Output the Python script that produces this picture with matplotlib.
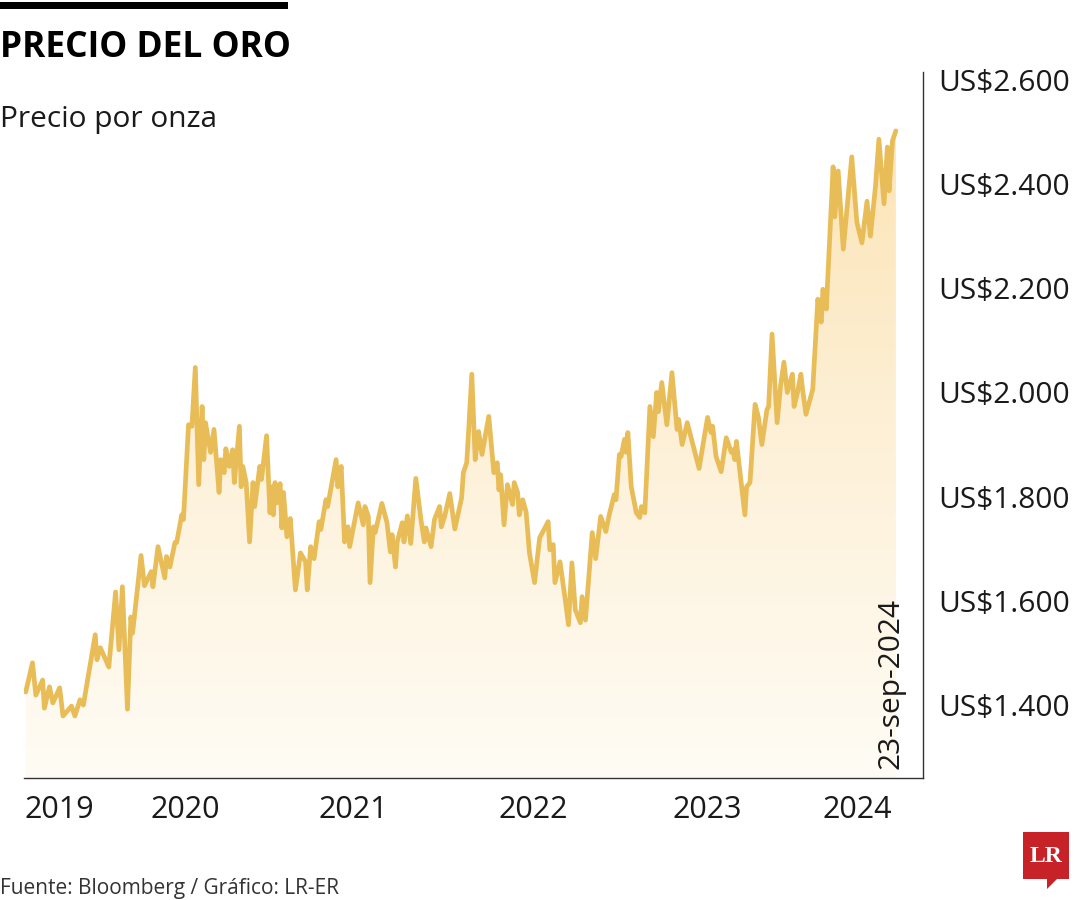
import matplotlib
matplotlib.use('Agg')
import matplotlib.pyplot as plt
import numpy as np
from matplotlib.patches import Polygon, Rectangle
from matplotlib.colors import LinearSegmentedColormap

# ---------------- data (decimal year, US$ per ounce) ----------------
dates = [
    2019.60, 2019.64, 2019.66, 2019.70, 2019.71, 2019.74, 2019.76, 2019.80, 2019.82, 2019.87,
    2019.89, 2019.92, 2019.94, 2020.01, 2020.02, 2020.04, 2020.09, 2020.13, 2020.15, 2020.17,
    2020.20, 2020.22, 2020.23, 2020.28, 2020.30, 2020.34, 2020.35, 2020.38, 2020.42, 2020.43,
    2020.45, 2020.48, 2020.49, 2020.52, 2020.53, 2020.56, 2020.58, 2020.60, 2020.62, 2020.64,
    2020.65, 2020.66, 2020.69, 2020.71, 2020.74, 2020.75, 2020.77, 2020.78, 2020.80, 2020.82,
    2020.83, 2020.86, 2020.87, 2020.88, 2020.90, 2020.92, 2020.94, 2020.95, 2020.98, 2020.99,
    2021.02, 2021.04, 2021.05, 2021.06, 2021.07, 2021.08, 2021.10, 2021.11, 2021.12, 2021.14,
    2021.16, 2021.19, 2021.22, 2021.25, 2021.26, 2021.28, 2021.30, 2021.33, 2021.34, 2021.37,
    2021.38, 2021.43, 2021.44, 2021.46, 2021.48, 2021.50, 2021.51, 2021.56, 2021.59, 2021.60,
    2021.62, 2021.63, 2021.65, 2021.66, 2021.70, 2021.73, 2021.75, 2021.76, 2021.78, 2021.79,
    2021.82, 2021.83, 2021.85, 2021.87, 2021.90, 2021.93, 2021.95, 2021.96, 2021.99, 2022.01,
    2022.04, 2022.05, 2022.07, 2022.10, 2022.13, 2022.17, 2022.18, 2022.20, 2022.21, 2022.23,
    2022.25, 2022.27, 2022.29, 2022.33, 2022.36, 2022.38, 2022.39, 2022.40, 2022.42, 2022.44,
    2022.47, 2022.48, 2022.50, 2022.51, 2022.53, 2022.55, 2022.57, 2022.60, 2022.63, 2022.68,
    2022.69, 2022.71, 2022.72, 2022.75, 2022.78, 2022.80, 2022.82, 2022.84, 2022.87, 2022.88,
    2022.90, 2022.94, 2022.96, 2022.99, 2023.02, 2023.04, 2023.07, 2023.08, 2023.10, 2023.11,
    2023.13, 2023.14, 2023.15, 2023.17, 2023.20, 2023.22, 2023.23, 2023.25, 2023.28, 2023.30,
    2023.32, 2023.33, 2023.35, 2023.38, 2023.41, 2023.44, 2023.45, 2023.47, 2023.50, 2023.53,
    2023.57, 2023.59, 2023.62, 2023.64, 2023.65, 2023.67, 2023.70, 2023.73, 2023.76, 2023.77,
    2023.78, 2023.79, 2023.84, 2023.85, 2023.87, 2023.90, 2023.92, 2023.94, 2023.97, 2023.98,
    2024.00, 2024.03, 2024.05, 2024.07, 2024.09, 2024.12, 2024.13, 2024.15, 2024.17, 2024.18,
    2024.20, 2024.24, 2024.27, 2024.29, 2024.30, 2024.32, 2024.36, 2024.37, 2024.39, 2024.42,
    2024.47, 2024.50, 2024.53, 2024.56, 2024.58, 2024.61, 2024.63, 2024.66, 2024.68, 2024.69,
    2024.71, 2024.73,
]
prices = [
    1425, 1481, 1419, 1448, 1394, 1435, 1404, 1433, 1379, 1398,
    1379, 1410, 1400, 1535, 1487, 1510, 1473, 1617, 1506, 1627,
    1392, 1569, 1538, 1687, 1629, 1656, 1627, 1704, 1644, 1685,
    1665, 1712, 1712, 1765, 1756, 1938, 1935, 2048, 1823, 1973,
    1871, 1942, 1885, 1929, 1808, 1871, 1846, 1892, 1858, 1890,
    1827, 1935, 1819, 1858, 1827, 1713, 1827, 1781, 1858, 1833,
    1917, 1769, 1819, 1765, 1827, 1788, 1825, 1740, 1808, 1723,
    1758, 1621, 1692, 1675, 1621, 1704, 1681, 1752, 1737, 1794,
    1781, 1871, 1819, 1858, 1713, 1742, 1704, 1788, 1746, 1781,
    1762, 1635, 1742, 1731, 1787, 1750, 1694, 1727, 1665, 1713,
    1750, 1713, 1763, 1710, 1835, 1756, 1713, 1740, 1704, 1756,
    1781, 1742, 1762, 1806, 1738, 1798, 1846, 1865, 1919, 2035,
    1871, 1925, 1881, 1954, 1846, 1865, 1813, 1842, 1746, 1823,
    1785, 1827, 1808, 1765, 1794, 1771, 1692, 1635, 1721, 1752,
    1698, 1708, 1635, 1675, 1604, 1554, 1673, 1583, 1558, 1608,
    1563, 1731, 1681, 1762, 1733, 1765, 1804, 1794, 1881, 1877,
    1910, 1885, 1923, 1819, 1769, 1760, 1781, 1769, 1973, 1915,
    2000, 1963, 2019, 1938, 2038, 1929, 1948, 1900, 1942, 1904,
    1854, 1894, 1952, 1923, 1935, 1877, 1848, 1913, 1885, 1890,
    1871, 1906, 1765, 1819, 1827, 1977, 1952, 1900, 1967, 1973,
    2112, 1942, 2012, 2058, 2000, 2035, 1973, 2000, 2035, 2006,
    1958, 2006, 2179, 2135, 2198, 2160, 2433, 2337, 2425, 2275,
    2452, 2327, 2287, 2367, 2300, 2396, 2486, 2362, 2471, 2387,
    2483, 2502,
]
year_ticks = [2019.80, 2020.54, 2021.53, 2022.59, 2023.62, 2024.50]
year_labels = ['2019', '2020', '2021', '2022', '2023', '2024']
price_ticks = [1400, 1600, 1800, 2000, 2200, 2400, 2600]
price_labels = ['US$1.400', 'US$1.600', 'US$1.800', 'US$2.000',
                'US$2.200', 'US$2.400', 'US$2.600']
last_date_label = '23-sep-2024'
title = 'PRECIO DEL ORO'
subtitle = 'Precio por onza'
source = 'Fuente: Bloomberg / Gráfico: LR-ER'

# ---------------- figure ----------------
W, H = 1080, 900
fig = plt.figure(figsize=(W / 100, H / 100), dpi=100)
fig.patch.set_facecolor('white')

ax_left, ax_right, ax_bottom, ax_top = 24, 923, 778, 72
ax = fig.add_axes([ax_left / W, 1 - ax_bottom / H,
                   (ax_right - ax_left) / W, (ax_bottom - ax_top) / H])

xmin, xmax = 2019.59, 2024.89
ymin, ymax = 1260, 2615
ax.set_xlim(xmin, xmax)
ax.set_ylim(ymin, ymax)

line_color = '#E8BD58'

# gradient fill under the line
cmap = LinearSegmentedColormap.from_list('goldfade', ['#FFFCF5', '#FDF0D6', '#FCE2B0'])
grad = np.linspace(0, 1, 256).reshape(-1, 1)
im = ax.imshow(grad, extent=[xmin, xmax, ymin, ymax], origin='lower',
               aspect='auto', cmap=cmap, zorder=1, interpolation='bicubic')
verts = list(zip(dates, prices)) + [(dates[-1], ymin), (dates[0], ymin)]
clip = Polygon(verts, closed=True, transform=ax.transData,
               facecolor='none', edgecolor='none')
ax.add_patch(clip)
im.set_clip_path(clip)

ax.plot(dates, prices, color=line_color, lw=3.4, solid_joinstyle='round',
        solid_capstyle='round', zorder=3)

# spines / ticks
for s in ['top', 'left']:
    ax.spines[s].set_visible(False)
for s in ['bottom', 'right']:
    ax.spines[s].set_color('#333333')
    ax.spines[s].set_linewidth(1.0)

ax.yaxis.tick_right()
ax.set_yticks(price_ticks)
ax.set_yticklabels(price_labels)
ax.tick_params(axis='y', length=0, pad=11, labelsize=21.5, labelcolor='#1a1a1a')
for lbl in ax.get_yticklabels():
    lbl.set_family(['Open Sans', 'DejaVu Sans'])

ax.set_xticks(year_ticks)
ax.set_xticklabels(year_labels)
ax.tick_params(axis='x', length=0, pad=12, labelsize=22, labelcolor='#1a1a1a')
for lbl in ax.get_xticklabels():
    lbl.set_family(['Liberation Sans Narrow', 'Open Sans', 'DejaVu Sans'])

# rotated last-date label
ax.text(dates[-1] - 0.03, ymin + 18, last_date_label, rotation=90,
        ha='center', va='bottom', fontsize=21.5, color='#1a1a1a',
        family=['Open Sans', 'DejaVu Sans'], zorder=4)

# ---------------- header ----------------
fig.add_artist(Rectangle((0, 1 - 9 / H), 288 / W, 7 / H, transform=fig.transFigure,
                         facecolor='black', edgecolor='none'))
fig.text(0 / W, 1 - 57 / H, title, fontsize=25.5, fontweight='bold',
         color='black', ha='left', va='baseline',
         family=['Open Sans', 'DejaVu Sans'])
fig.text(0 / W, 1 - 127 / H, subtitle, fontsize=21.5, color='#1a1a1a',
         ha='left', va='baseline', family=['Open Sans', 'DejaVu Sans'])

# ---------------- footer ----------------
fig.text(0 / W, 1 - 894 / H, source, fontsize=15, color='#333333',
         ha='left', va='baseline',
         family=['Liberation Sans Narrow', 'Open Sans', 'DejaVu Sans'])

# LR logo (speech bubble)
red = '#C62228'
bx0, bx1, by0, by1 = 1023, 1069, 832, 879
bubble = Polygon([(bx0 / W, 1 - by0 / H), (bx1 / W, 1 - by0 / H),
                  (bx1 / W, 1 - by1 / H), (1057 / W, 1 - by1 / H),
                  (1047 / W, 1 - 889 / H), (1047 / W, 1 - by1 / H),
                  (bx0 / W, 1 - by1 / H)],
                 closed=True, transform=fig.transFigure,
                 facecolor=red, edgecolor='none')
fig.add_artist(bubble)
fig.text((bx0 + bx1) / 2 / W, 1 - 856 / H, 'LR', fontsize=17, fontweight='bold',
         color='white', ha='center', va='center',
         family=['Liberation Serif', 'DejaVu Serif'])

fig.savefig('out.png', dpi=100, facecolor='white')
